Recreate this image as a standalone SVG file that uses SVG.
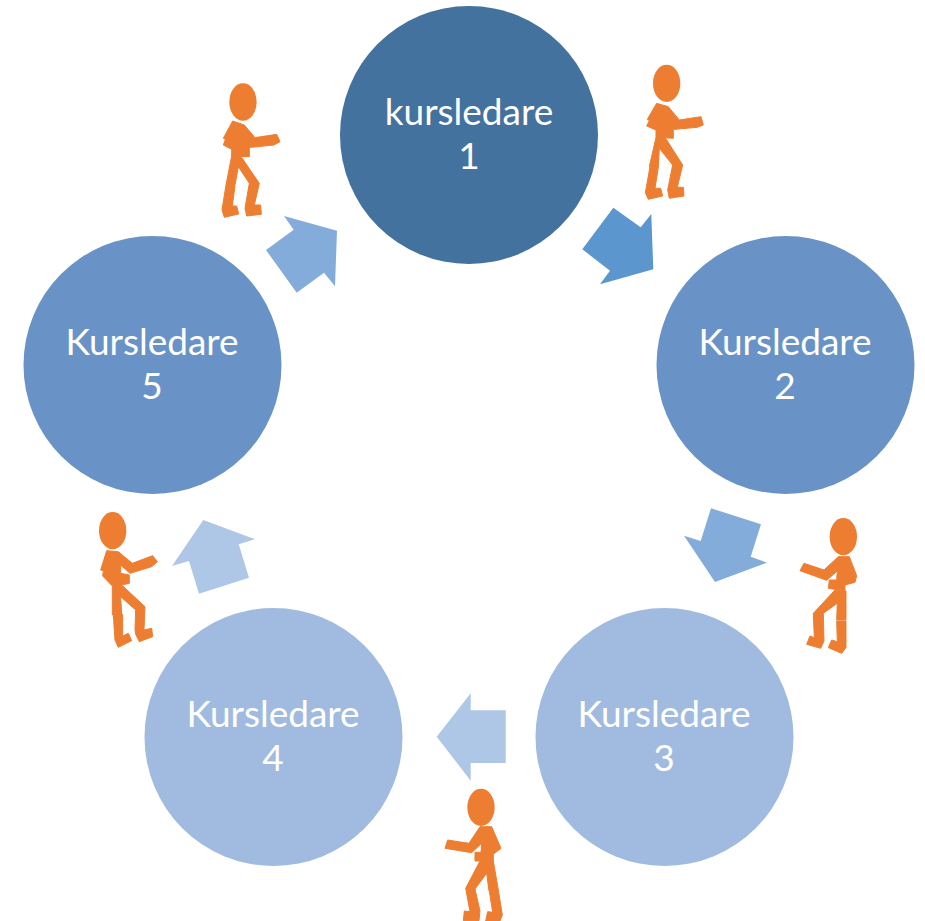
<svg xmlns="http://www.w3.org/2000/svg" width="925" height="921" viewBox="0 0 925 921">
<style>
.t{font-family:"Lato","Carlito","Open Sans",sans-serif;font-size:37px;fill:#fff;text-anchor:middle}
.f{fill:#ed7d31}
.f polygon{stroke:#ed7d31;stroke-width:3;stroke-linejoin:miter}
.a1{fill:#5b96cf}.a2{fill:#84acda}.a3{fill:#aec7e6}
</style>
<rect width="925" height="921" fill="#fff"/>
<g id="connectors">
<polygon class="a1" points="613.3,207.7 640.7,227.3 651.3,214 653.3,269.3 600,284.3 610,270.7 582.3,249.3"/>
<polygon class="a2" points="711,508.3 761,524.3 750.7,556.7 767,562.7 715,582 684,535.7 700.7,541"/>
<polygon class="a3" points="470.7,693.3 470.7,710.3 505.7,710.3 505.7,763 470.7,763 470.7,780.7 436.7,736.7"/>
<polygon class="a3" points="203.3,520 255,539.3 238.7,544.3 249,577.7 199,593.7 189,561 172,566"/>
<polygon class="a2" points="284,216 337,230.7 335,286.3 324,272.7 296.7,292.7 266,250 293.7,229.7"/>
</g>
<g id="node1"><circle cx="469" cy="135" r="129" fill="#44729f"/><text class="t" x="469" y="125">kursledare</text><text class="t" x="469" y="169">1</text></g>
<g id="node2"><circle cx="785.5" cy="365" r="129" fill="#6993c6"/><text class="t" x="785" y="355">Kursledare</text><text class="t" x="785" y="399">2</text></g>
<g id="node3"><circle cx="664.5" cy="737" r="129" fill="#a0bbdf"/><text class="t" x="664" y="727">Kursledare</text><text class="t" x="664" y="771">3</text></g>
<g id="node4"><circle cx="273.5" cy="737" r="129" fill="#a0bbdf"/><text class="t" x="273" y="727">Kursledare</text><text class="t" x="273" y="771">4</text></g>
<g id="node5"><circle cx="152.5" cy="365" r="129" fill="#6993c6"/><text class="t" x="152" y="355">Kursledare</text><text class="t" x="152" y="399">5</text></g>
<g id="figure1" class="f" transform="translate(620 50) scale(.3333)">
<ellipse cx="140" cy="100" rx="41" ry="56"/>
<polygon points="110,160 145,170 178,210 243,200 250,225 232,232 165,238 160,238 160,265 108,262 108,240 80,228 88,212 82,208"/>
<polygon points="108,262 135,262 188,345 172,412 190,412 192,438 148,445 143,420 158,345 118,295 115,352 88,350"/>
<polygon points="90,350 115,352 105,415 122,415 128,438 85,448 76,428"/>
</g>
<g id="figure2" class="f" transform="translate(780 505) scale(.3333)">
<ellipse cx="190" cy="95" rx="41" ry="56"/>
<polygon points="175,155 208,155 230,212 225,232 195,240 195,258 145,250 148,225 170,225 172,198 140,226 60,197 72,175 132,195"/>
<polygon points="165,255 198,258 198,345 170,345 172,295 130,325 132,408 122,430 80,418 90,393 103,398 100,325"/>
<polygon points="170,348 198,348 198,428 185,445 145,428 155,405 172,410"/>
</g>
<g id="figure3" class="f" transform="translate(425 775) scale(.3333)">
<ellipse cx="168" cy="97" rx="41" ry="56"/>
<polygon points="165,155 200,155 228,220 205,238 205,258 150,258 150,232 168,232 170,205 140,233 60,220 68,195 132,205"/>
<polygon points="165,258 205,258 220,345 192,348 185,295 150,342 165,408 162,437 115,437 118,408 135,410 122,340"/>
<polygon points="193,348 220,345 232,420 225,438 182,438 188,410 203,412"/>
</g>
<g id="figure4" class="f" transform="translate(80 500) scale(.3333)">
<ellipse cx="98" cy="92" rx="41" ry="56"/>
<polygon points="80,152 115,155 157,190 218,167 232,185 215,200 150,220 122,195 122,220 148,225 148,250 125,255 195,320 192,390 215,385 218,410 178,425 168,405 165,390 167,330 122,290 125,345 97,345 97,258 68,228 70,212 62,210"/>
<polygon points="100,345 128,343 128,408 145,400 155,422 115,442 105,420"/>
</g>
<g id="figure5" class="f" transform="translate(200 70) scale(.3333)">
<ellipse cx="129" cy="96" rx="41" ry="56"/>
<polygon points="98,153 133,165 165,203 230,193 240,215 222,225 155,232 148,232 148,260 95,258 95,238 70,225 76,208 70,205"/>
<polygon points="95,258 122,258 178,340 163,405 182,405 184,433 140,438 135,415 148,340 115,290 105,345 78,345"/>
<polygon points="78,345 105,347 97,408 110,408 116,432 73,442 66,420"/>
</g>
</svg>
